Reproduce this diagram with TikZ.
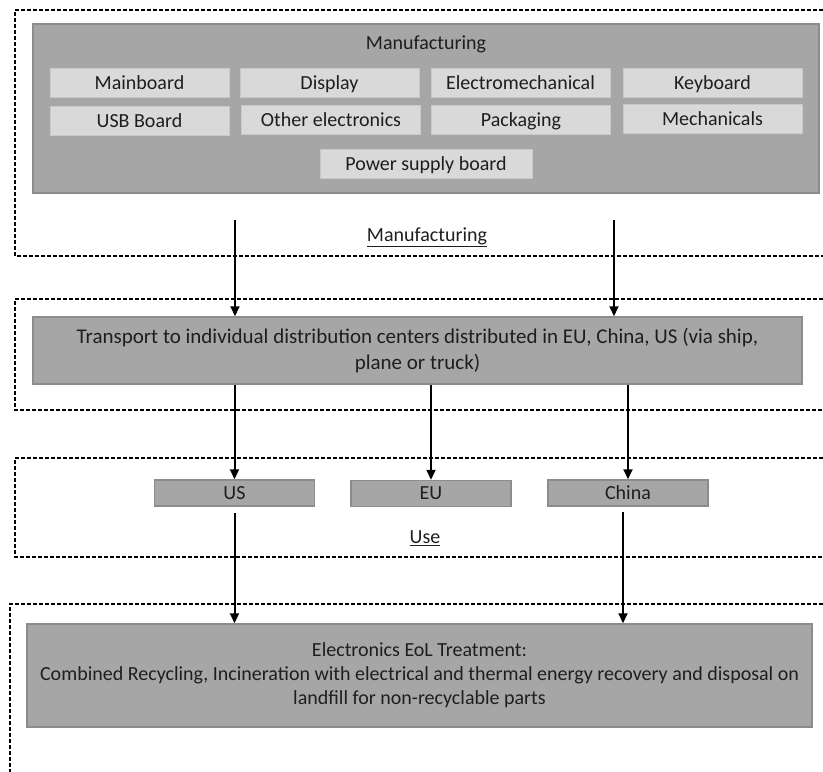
\documentclass[tikz,border=0pt]{standalone}
\usepackage{fontspec}
\setmainfont{Carlito}
\usetikzlibrary{arrows.meta}
\tikzset {>={Triangle[length=10pt,width=9pt]}}
\definecolor{boxgray}{HTML}{A6A6A6}
\definecolor{boxedge}{HTML}{8C8C8C}
\definecolor{partgray}{HTML}{D9D9D9}
\definecolor{partedge}{HTML}{C8C8C8}
\definecolor{txt}{HTML}{1E1E1E}
\tikzset{
  region/.style={line width=1.3pt,dash pattern=on 4pt off 2pt},
  bigbox/.style={draw=boxedge,fill=boxgray,line width=1.5pt,inner sep=0pt,text=txt,align=center},
  part/.style={draw=partedge,fill=partgray,line width=1pt,minimum width=179pt,minimum height=29pt,inner sep=0pt,text height=17pt,text depth=4pt,text=txt},
  country/.style={bigbox,minimum width=160pt,minimum height=26pt,text height=16pt,text depth=4pt},
  flow/.style={->,line width=2pt}
}

\begin{document}
\begin{tikzpicture}[x=1pt,y=-1pt,font=\fontsize{20}{24}\selectfont]
\useasboundingbox (0,0) rectangle (823,772);
\draw[region] (823,10) -- (15,10) -- (15,256) -- (823,256);
\draw[region] (823,299) -- (15,299) -- (15,410) -- (823,410);
\draw[region] (823,458) -- (15,458) -- (15,557) -- (823,557);
\draw[region] (823,604) -- (10,604) -- (10,772);
\node[bigbox,minimum width=786pt,minimum height=169pt] (mfg) at (426,108.5) {};
\node[text=txt] (mfgtitle) at (426,44) {Manufacturing};
\node[part] (mainboard) at (139.5,82.5) {Mainboard};
\node[part] (display) at (329.5,82.5) {Display};
\node[part] (electromech) at (520.5,82.5) {Electromechanical};
\node[part] (keyboard) at (712.5,82.5) {Keyboard};
\node[part] (usb) at (139.5,121) {USB Board};
\node[part] (otherel) at (331,120) {Other electronics};
\node[part] (packaging) at (521,119.5) {Packaging};
\node[part] (mechanicals) at (712.5,119) {Mechanicals};
\node[part,minimum width=212pt] (psu) at (426,163.5) {Power supply board};
\node[text=txt] (mfglabel) at (427,237) {\underline{Manufacturing}};
\coordinate (m1) at (235,220);
\coordinate (m2) at (614,220);
\node[bigbox,minimum width=769pt,minimum height=67pt,font=\fontsize{21}{26}\selectfont] (transport) at (417.5,350.5) {Transport to individual distribution centers distributed in EU, China, US (via ship,\\plane or truck)};
\draw[flow] (m1) -- (m1 |- transport.north);
\draw[flow] (m2) -- (m2 |- transport.north);
\node[country] (us) at (234.5,493) {US};
\node[country] (eu) at (431,493.5) {EU};
\node[country] (china) at (628,493) {China};
\draw[flow] (us |- transport.south) -- (us.north);
\draw[flow] (eu |- transport.south) -- (eu.north);
\draw[flow] (china |- transport.south) -- (china.north);
\node[text=txt] (uselabel) at (425,538) {\underline{Use}};
\node[bigbox,minimum width=785pt,minimum height=103pt] (eol) at (419.5,675.5) {Electronics EoL Treatment:\\Combined Recycling, Incineration with electrical and thermal energy recovery and disposal on\\landfill for non-recyclable parts};
\draw[flow] ([yshift=-6pt]us.south) -- (us |- eol.north);
\draw[flow] ([xshift=-5pt,yshift=-5pt]china.south) -- ([xshift=-5pt]china |- eol.north);
\end{tikzpicture}
\end{document}
